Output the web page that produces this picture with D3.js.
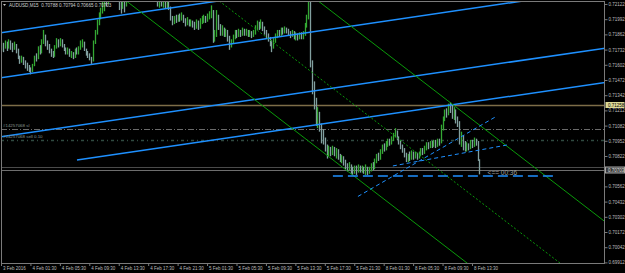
<!DOCTYPE html>
<html lang="en">
<head>
<meta charset="UTF-8" />
<title>AUDUSD,M15</title>
<script src="https://d3js.org/d3.v7.min.js"></script>
<style>
  html, body { margin: 0; padding: 0; background: #000; }
  svg { display: block; }
  text { font-family: "Liberation Sans", Arial, sans-serif; }
</style>
</head>
<body>
<svg id="chart" width="625" height="273"></svg>
<script>
// M15 bars, prices in pips (1/10000), open = previous close
const firstOpen = 7175;
const closes = [
  7177,7175,7178,7176,7179,7177,7175,7178,7174,7167,7164,7166,7162,7160,7158,7156,7155,7160,7167,7166,
  7174,7171,7180,7186,7178,7176,7172,7170,7168,7175,7180,7178,7181,7177,7174,7171,7173,7169,7170,7167,
  7172,7170,7175,7177,7179,7174,7170,7169,7166,7163,7180,7188,7196,7203,7206,7212,7218,7216,7220,7222,
  7224,7221,7223,7219,7214,7210,7216,7213,7219,7222,7225,7228,7230,7227,7231,7233,7229,7232,7230,7227,
  7229,7225,7226,7222,7218,7215,7217,7213,7215,7211,7213,7210,7200,7196,7200,7198,7201,7199,7202,7198,
  7196,7198,7195,7197,7194,7193,7197,7192,7197,7199,7201,7198,7201,7203,7206,7182,7186,7202,7192,7188,
  7191,7186,7189,7183,7177,7180,7183,7188,7185,7189,7186,7190,7187,7189,7186,7188,7185,7188,7192,7195,
  7193,7197,7191,7188,7185,7183,7179,7176,7181,7185,7188,7186,7190,7188,7191,7189,7187,7185,7188,7184,
  7186,7183,7186,7184,7187,7194,7201,7214,7162,7143,7128,7112,7118,7107,7100,7096,7090,7084,7088,7085,
  7088,7084,7087,7082,7079,7081,7077,7074,7072,7075,7071,7069,7072,7070,7073,7070,7072,7069,7072,7068,
  7071,7074,7072,7078,7082,7080,7086,7090,7088,7093,7095,7093,7097,7100,7103,7098,7094,7090,7087,7083,
  7080,7082,7080,7084,7081,7083,7081,7084,7087,7085,7089,7092,7090,7093,7091,7094,7092,7095,7093,7106,
  7114,7120,7118,7125,7122,7117,7121,7114,7110,7095,7099,7091,7088,7092,7089,7094,7092,7096,7094,7078.8,
  7070.3
];
const highs = [
  7181,7179,7181,7180,7182,7181,7179,7180,7178,7174,7168,7168,7167,7164,7162,7160,7158,7161,7168,7170,
  7176,7177,7182,7190,7186,7181,7178,7174,7172,7177,7183,7182,7183,7182,7178,7175,7175,7174,7172,7171,
  7174,7175,7176,7181,7182,7180,7174,7172,7170,7167,7181,7190,7199,7205,7209,7215,7222,7221,7224,7226,
  7228,7226,7227,7225,7220,7216,7218,7219,7222,7225,7228,7231,7233,7232,7234,7236,7234,7235,7234,7232,
  7232,7230,7229,7227,7223,7220,7219,7218,7218,7217,7216,7215,7210,7202,7202,7203,7203,7204,7205,7203,
  7200,7201,7199,7199,7198,7197,7199,7198,7200,7202,7203,7202,7204,7206,7211,7207,7190,7207,7203,7195,
  7194,7192,7191,7190,7185,7182,7186,7190,7190,7191,7190,7192,7191,7191,7190,7190,7189,7190,7194,7198,
  7197,7199,7197,7193,7190,7187,7184,7181,7183,7187,7190,7190,7192,7192,7193,7192,7191,7189,7190,7189,
  7188,7187,7188,7188,7189,7196,7203,7218,7216,7164,7146,7132,7124,7120,7110,7105,7098,7092,7091,7090,
  7091,7090,7089,7088,7084,7083,7082,7079,7076,7077,7075,7073,7074,7074,7075,7074,7074,7073,7075,7073,
  7073,7076,7077,7080,7084,7085,7088,7092,7093,7095,7097,7097,7099,7102,7106,7104,7099,7096,7092,7089,
  7085,7084,7086,7087,7086,7086,7085,7086,7089,7089,7091,7094,7094,7095,7095,7096,7096,7097,7097,7109,
  7116,7122,7123,7127,7128,7126,7124,7122,7116,7112,7103,7100,7095,7094,7093,7096,7096,7098,7097,7095,
  7079.4
];
const lows = [
  7172,7171,7174,7172,7174,7173,7171,7173,7170,7165,7161,7162,7160,7157,7155,7154,7152,7154,7159,7163,
  7165,7169,7170,7178,7176,7173,7170,7167,7166,7167,7174,7175,7176,7175,7172,7169,7169,7167,7166,7165,
  7166,7169,7169,7173,7175,7172,7168,7166,7164,7161,7163,7178,7186,7194,7199,7204,7206,7210,7212,7215,
  7218,7217,7218,7214,7207,7204,7208,7205,7210,7215,7218,7220,7225,7224,7225,7228,7227,7226,7227,7224,
  7223,7222,7220,7219,7214,7210,7209,7210,7209,7208,7208,7207,7198,7194,7195,7196,7197,7197,7198,7196,
  7193,7194,7193,7193,7192,7190,7191,7190,7191,7195,7196,7196,7197,7199,7200,7179,7180,7184,7190,7185,
  7185,7184,7184,7180,7173,7175,7178,7182,7183,7184,7184,7185,7185,7185,7184,7184,7183,7184,7186,7190,
  7190,7191,7189,7186,7183,7180,7176,7171,7174,7179,7183,7184,7185,7186,7187,7187,7185,7183,7184,7182,
  7181,7181,7182,7182,7182,7185,7192,7199,7158,7135,7122,7108,7106,7103,7093,7092,7086,7080,7082,7082,
  7083,7082,7080,7079,7077,7076,7074,7071,7069,7070,7067,7066,7067,7066,7068,7068,7068,7067,7066,7066,
  7067,7069,7070,7071,7076,7078,7079,7084,7086,7087,7090,7091,7092,7095,7098,7096,7092,7088,7085,7081,
  7077,7077,7078,7079,7079,7080,7079,7080,7082,7083,7084,7087,7088,7089,7089,7090,7089,7090,7091,7093,
  7104,7112,7115,7117,7119,7114,7113,7110,7107,7092,7090,7087,7086,7086,7087,7088,7089,7090,7091,7078,
  7066.5
];

// time axis: label every 16 bars
const timeTickBars = [0,16,32,48,64,80,96,112,128,144,160,176,192,208,224,240,256];
const timeLabels = ["3 Feb 2016","4 Feb 01:30","4 Feb 05:30","4 Feb 09:30","4 Feb 13:30","4 Feb 17:30",
  "4 Feb 21:30","5 Feb 01:30","5 Feb 05:30","5 Feb 09:30","5 Feb 13:30","5 Feb 17:30","5 Feb 21:30",
  "8 Feb 01:30","8 Feb 05:30","8 Feb 09:30","8 Feb 13:30"];
const priceTicks = [0.72122,0.71992,0.71862,0.71732,0.71602,0.71472,0.71342,0.71212,0.71082,
  0.70952,0.70822,0.70692,0.70562,0.70432,0.70302,0.70172,0.70042,0.69912];

// drawn objects: [bar index, price] end points
const blueChannel = [
  [[-1, 0.71873], [130, 0.72175]],
  [[-1, 0.71488], [295, 0.72174]],
  [[-1, 0.70984], [329, 0.71746]],
  [[41.3, 0.70788], [329, 0.71453]]
];
const greenChannel = [
  [[60, 0.72246], [260, 0.69826]],
  [[165, 0.72237], [330, 0.70240]]
];
const greenMid = [[110, 0.72252], [310, 0.69832]];
const blueDashed = [
  [[194, 0.70476], [269.6, 0.71164]],
  [[213, 0.70737], [275, 0.70916]]
];
const blueLevel = [[180.4, 0.70651], [302.7, 0.70651]];
const levelLine = 0.71258;
const slLine = 0.71049;
const orderLine = 0.70963;
const askPrice = 0.70728;
const bidPrice = 0.70703;
const header = "AUDUSD,M15  0.70788 0.70794 0.70665 0.70703";
const orderLabels = ["#14257068 sl", "#14257068 sell 0.10"];
const timerText = "<== 00:36";

const W = 625, H = 273;
const plot = { left: 1, top: 1, right: 605, bottom: 263 };

const x = d3.scaleLinear().domain([0, 328.3]).range([1, 605]);
const y = d3.scaleLinear().domain([0.69907, 0.72156]).range([263, 0]);

const svg = d3.select("#chart");
svg.append("rect").attr("width", W).attr("height", H).attr("fill", "#000");

svg.append("defs").append("clipPath").attr("id", "plotClip")
  .append("rect")
  .attr("x", plot.left).attr("y", plot.top)
  .attr("width", plot.right - plot.left).attr("height", plot.bottom - plot.top);

const g = svg.append("g").attr("clip-path", "url(#plotClip)");
const line = d3.line().x(d => x(d[0])).y(d => y(d[1]));

// horizontal levels
function hline(price, color, width, dash) {
  g.append("line")
    .attr("x1", plot.left).attr("x2", plot.right)
    .attr("y1", Math.round(y(price)) + 0.5).attr("y2", Math.round(y(price)) + 0.5)
    .attr("stroke", color).attr("stroke-width", width)
    .attr("stroke-dasharray", dash || null);
}
hline(levelLine, "#7d6d48", 1.5);
hline(slLine, "#6a6a6a", 1, "6,2,1,2");
hline(orderLine, "#2f4a40", 1.5, "3,3,1,3");
hline(askPrice, "#4a4a4a", 1);
hline(bidPrice, "#6e6e6e", 1);

// candles
const bars = closes.map((c, i) => ({
  i, o: i ? closes[i - 1] : firstOpen, h: highs[i], l: lows[i], c
}));
g.selectAll("line.bar")
  .data(bars)
  .join("line")
  .attr("class", "bar")
  .attr("x1", d => Math.round(x(d.i)) + 0.5)
  .attr("x2", d => Math.round(x(d.i)) + 0.5)
  .attr("y1", d => y(Math.max(d.h, d.o, d.c) / 10000))
  .attr("y2", d => y(Math.min(d.l, d.o, d.c) / 10000))
  .attr("stroke", d => d.c >= d.o ? "#34a834" : "#82a0a0")
  .attr("stroke-width", 1.3);

// trend lines
blueChannel.forEach(pts => g.append("path").attr("d", line(pts))
  .attr("fill", "none").attr("stroke", "#1e90ff").attr("stroke-width", 1.5));
greenChannel.forEach(pts => g.append("path").attr("d", line(pts))
  .attr("fill", "none").attr("stroke", "#0a9a0a").attr("stroke-width", 1));
g.append("path").attr("d", line(greenMid))
  .attr("fill", "none").attr("stroke", "#0a9a0a").attr("stroke-width", 1)
  .attr("stroke-dasharray", "2,2");
blueDashed.forEach(pts => g.append("path").attr("d", line(pts))
  .attr("fill", "none").attr("stroke", "#1e90ff").attr("stroke-width", 1)
  .attr("stroke-dasharray", "4,3"));
g.append("path").attr("d", line(blueLevel))
  .attr("fill", "none").attr("stroke", "#1e90ff").attr("stroke-width", 1.5)
  .attr("stroke-dasharray", "10,5");

// texts inside the plot
g.append("text").attr("x", x(264.5)).attr("y", y(blueLevel[0][1]) - 0.5)
  .attr("fill", "#a0a0a0").attr("font-size", 6.5).text(timerText);
g.append("text").attr("x", 3).attr("y", y(slLine) - 2)
  .attr("fill", "#8a9a90").attr("font-size", 4.4).text(orderLabels[0]);
g.append("text").attr("x", 3).attr("y", y(orderLine) - 2)
  .attr("fill", "#8a9a90").attr("font-size", 4.4).text(orderLabels[1]);
g.append("path").attr("d", "M3,4 L6,4 L4.5,6 Z").attr("fill", "#c0c0c0");
g.append("text").attr("x", 9).attr("y", 7)
  .attr("fill", "#d0d0d0").attr("font-size", 4.6).attr("xml:space", "preserve").text(header);

// frame
svg.append("rect")
  .attr("x", plot.left + 0.5).attr("y", plot.top + 0.5)
  .attr("width", plot.right - plot.left - 1).attr("height", plot.bottom - plot.top)
  .attr("fill", "none").attr("stroke", "#7a7a7a");

// price axis
const yAxis = svg.append("g")
  .attr("transform", `translate(${plot.right - 0.5},0)`)
  .call(d3.axisRight(y).tickValues(priceTicks).tickSize(3).tickFormat(d3.format(".5f")));
yAxis.select(".domain").remove();
yAxis.selectAll("line").attr("stroke", "#7a7a7a");
yAxis.selectAll("text").attr("fill", "#bdbdbd").attr("font-size", 4.5).attr("x", 4)
  .attr("font-family", "Liberation Sans, Arial, sans-serif");

function priceTag(price, fill, stroke, color) {
  const yy = Math.round(y(price));
  svg.append("rect").attr("x", plot.right + 0.5).attr("y", yy - 3)
    .attr("width", 19).attr("height", 6)
    .attr("fill", fill).attr("stroke", stroke);
  svg.append("text").attr("x", plot.right + 3).attr("y", yy + 1.6)
    .attr("fill", color).attr("font-size", 4.5).text(d3.format(".5f")(price));
}
priceTag(levelLine, "#dcd896", "none", "#000");
priceTag(bidPrice, "#3a3a3a", "#a8a8a8", "#e0e0e0");

// time axis
const xAxis = svg.append("g")
  .attr("transform", `translate(0,${plot.bottom})`)
  .call(d3.axisBottom(x).tickValues(timeTickBars).tickSize(3)
    .tickFormat((d, i) => timeLabels[i]));
xAxis.select(".domain").remove();
xAxis.selectAll("line").attr("stroke", "#7a7a7a");
xAxis.selectAll("text").attr("fill", "#bdbdbd").attr("font-size", 4.5)
  .attr("text-anchor", "start").attr("x", 1.5).attr("dy", 0).attr("y", 6.8)
  .attr("font-family", "Liberation Sans, Arial, sans-serif");
</script>
</body>
</html>
